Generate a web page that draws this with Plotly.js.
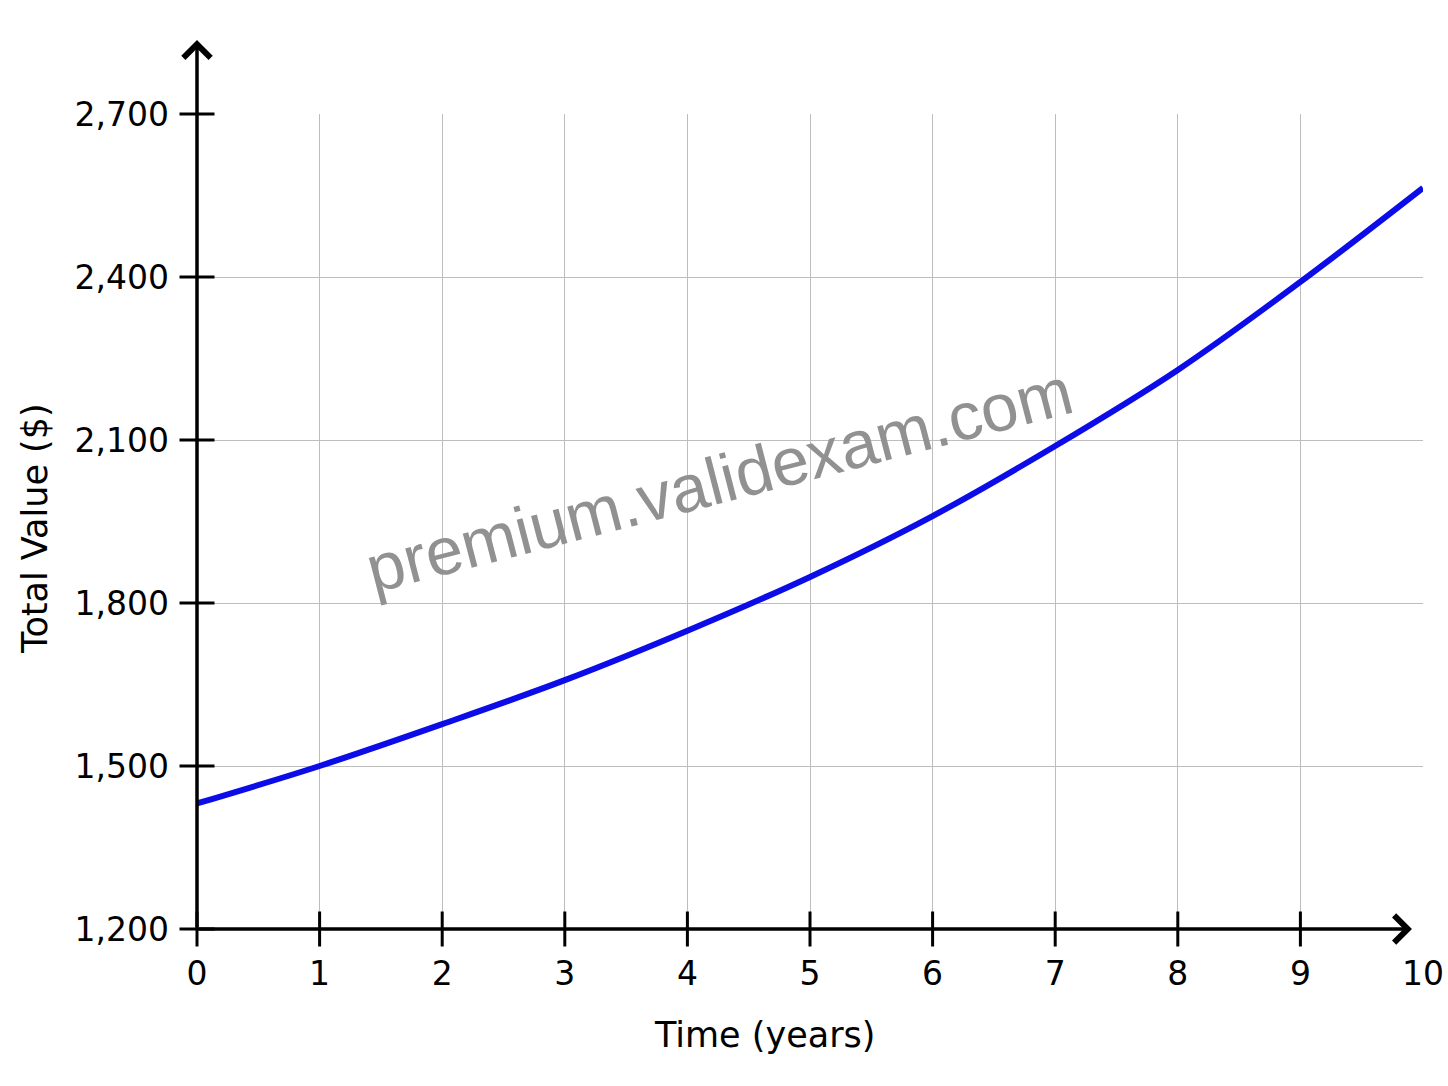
<!DOCTYPE html>
<html>
<head>
<meta charset="utf-8">
<script src="https://cdn.plot.ly/plotly-3.0.1.min.js"></script>
<style>html,body{margin:0;padding:0;background:#fff;}#chart{width:1448px;height:1086px;}</style>
</head>
<body>
<div id="chart"></div>
<script>
// Data
const years = [0, 1, 2, 3, 4, 5, 6, 7, 8, 9, 10];
const totalValue = [1431, 1500, 1577, 1658, 1749, 1848, 1960, 2089, 2229, 2391, 2564];
const xTickLabels = ['0', '1', '2', '3', '4', '5', '6', '7', '8', '9', '10'];
const yTickVals = [1200, 1500, 1800, 2100, 2400, 2700];
const yTickLabels = ['1,200', '1,500', '1,800', '2,100', '2,400', '2,700'];
const xTitle = 'Time (years)';
const yTitle = 'Total Value ($)';
const watermark = 'premium.validexam.com';

const xRange = [years[0], years[years.length - 1]];
const yRange = [yTickVals[0], yTickVals[yTickVals.length - 1]];
const tickYears = years.slice(0, years.length - 1);

const font = 'DejaVu Sans, sans-serif';

// crossing tick marks drawn as line markers sitting on the axes
const xTickMarks = {
  x: tickYears, y: tickYears.map(() => yRange[0]), mode: 'markers', cliponaxis: false,
  marker: {symbol: 'line-ns', size: 25, line: {color: '#000', width: 3}},
  hoverinfo: 'skip', showlegend: false
};
const yTickMarks = {
  x: yTickVals.map(() => xRange[0]), y: yTickVals, mode: 'markers', cliponaxis: false,
  marker: {symbol: 'line-ew', size: 25, line: {color: '#000', width: 3}},
  hoverinfo: 'skip', showlegend: false
};

const traces = [
  {x: years, y: totalValue, type: 'scatter', mode: 'lines',
   line: {color: 'rgb(12,12,232)', width: 6, shape: 'spline', smoothing: 1},
   hoverinfo: 'skip', showlegend: false},
  xTickMarks,
  yTickMarks
];

const layout = {
  width: 1448, height: 1086,
  paper_bgcolor: '#fff', plot_bgcolor: '#fff',
  margin: {l: 197, r: 25, t: 114, b: 157},
  showlegend: false,
  font: {family: font, color: '#000'},
  xaxis: {
    range: xRange, tickmode: 'array', tickvals: years, ticktext: xTickLabels,
    ticks: '', showline: false, zeroline: false,
    showgrid: true, gridcolor: '#bdbdbd', gridwidth: 1,
    tickfont: {family: font, size: 33, color: '#000'},
    ticklabelstandoff: 22
  },
  yaxis: {
    range: yRange, tickmode: 'array', tickvals: yTickVals, ticktext: yTickLabels,
    ticks: '', showline: false, zeroline: false,
    showgrid: true, gridcolor: '#bdbdbd', gridwidth: 1,
    tickfont: {family: font, size: 33, color: '#000'},
    ticklabelstandoff: 27
  },
  annotations: [
    // x axis line with arrow
    {xref: 'x', yref: 'y', axref: 'x', ayref: 'y',
     x: 9.91, y: yRange[0], ax: xRange[0], ay: yRange[0],
     text: '', showarrow: true, arrowhead: 4, arrowsize: 1.5, arrowwidth: 3.5, arrowcolor: '#000'},
    // y axis line with arrow
    {xref: 'x', yref: 'y', axref: 'x', ayref: 'y',
     x: xRange[0], y: 2836, ax: xRange[0], ay: yRange[0],
     text: '', showarrow: true, arrowhead: 4, arrowsize: 1.5, arrowwidth: 3.5, arrowcolor: '#000'},
    {xref: 'paper', yref: 'paper', x: 0.463, y: -0.13, xanchor: 'center', yanchor: 'middle',
     text: xTitle, showarrow: false, font: {family: font, size: 35, color: '#000'}},
    {xref: 'paper', yref: 'paper', x: -0.132, y: 0.491, xanchor: 'center', yanchor: 'middle',
     text: yTitle, textangle: -90, showarrow: false, font: {family: font, size: 35, color: '#000'}},
    {xref: 'paper', yref: 'paper', x: 0.426, y: 0.552, xanchor: 'center', yanchor: 'middle',
     text: watermark, textangle: -14.5, showarrow: false,
     font: {family: 'Liberation Sans, Arial, sans-serif', size: 67, color: 'rgb(145,145,145)'}}
  ]
};

Plotly.newPlot('chart', traces, layout, {staticPlot: true, displayModeBar: false});
</script>
</body>
</html>
